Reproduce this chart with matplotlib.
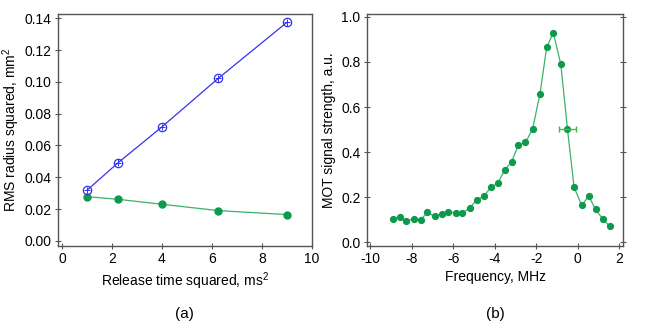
import matplotlib.pyplot as plt

plt.rcParams['font.family'] = ['Liberation Sans', 'DejaVu Sans']
plt.rcParams['mathtext.fontset'] = 'custom'
plt.rcParams['mathtext.rm'] = 'Liberation Sans'
plt.rcParams['font.size'] = 10
plt.rcParams['axes.unicode_minus'] = False

# (a) RMS radius squared vs release time squared
t2 = [1.0, 2.25, 4.0, 6.25, 9.0]
r2_blue = [0.0318, 0.0492, 0.0717, 0.1022, 0.1375]
r2_green = [0.0278, 0.0261, 0.0230, 0.0190, 0.0165]

# (b) MOT signal vs frequency
freq = [-8.91, -8.57, -8.26, -7.89, -7.57, -7.25, -6.89, -6.55, -6.23, -5.87,
        -5.55, -5.21, -4.86, -4.53, -4.19, -3.86, -3.52, -3.19, -2.86, -2.52,
        -2.18, -1.82, -1.50, -1.18, -0.82, -0.50, -0.18, 0.19, 0.52, 0.86,
        1.20, 1.53]
signal = [0.104, 0.112, 0.093, 0.104, 0.098, 0.132, 0.114, 0.126, 0.135, 0.129,
          0.129, 0.151, 0.188, 0.203, 0.243, 0.261, 0.319, 0.357, 0.431, 0.443,
          0.501, 0.659, 0.865, 0.930, 0.791, 0.504, 0.243, 0.163, 0.204, 0.145,
          0.102, 0.071]
err_x, err_y, err_w = -0.50, 0.504, 0.40

blue = '#3333ee'
green = '#0d9a4a'
gline = '#3bb26a'
spine_c = '#555555'

fig = plt.figure(figsize=(6.54, 3.24), dpi=100)
ax1 = fig.add_axes([0.0887, 0.2417, 0.388, 0.715])
ax2 = fig.add_axes([0.5607, 0.2417, 0.3924, 0.715])

# panel a
ax1.plot(t2, r2_blue, color=blue, lw=0.9)
ax1.errorbar(t2, r2_blue, xerr=0.13, yerr=0.0021, fmt='o', ms=6,
             mfc='none', mec=blue, mew=0.9, ecolor=blue, elinewidth=0.7,
             capsize=0)
ax1.plot(t2, r2_green, color=gline, lw=0.9)
ax1.plot(t2, r2_green, 'o', color=green, ms=5)
ax1.set_xlim(-0.16, 10.0)
ax1.set_ylim(-0.0031, 0.1428)
ax1.set_xticks([0, 2, 4, 6, 8, 10])
ax1.set_yticks([0.00, 0.02, 0.04, 0.06, 0.08, 0.10, 0.12, 0.14])
ax1.set_yticklabels(['0.00', '0.02', '0.04', '0.06', '0.08', '0.10', '0.12', '0.14'])
ax1.set_xlabel('Release time squared, ms$^2$')
ax1.set_ylabel('RMS radius squared, mm$^2$')
ax1.yaxis.set_label_coords(-0.142, 0.5)
ax1.xaxis.set_label_coords(0.5, -0.105)
ax1.text(0.5, -0.295, '(a)', transform=ax1.transAxes, ha='center', va='center',
         fontsize=11)

# panel b
ax2.plot(freq, signal, color=gline, lw=0.9)
ax2.plot(freq, signal, 'o', color=green, ms=4.2)
ax2.errorbar([err_x], [err_y], xerr=[err_w], fmt='none', ecolor='#44bb44',
             elinewidth=1.0, capsize=2.5, capthick=1.0)
ax2.set_xlim(-10.16, 2.19)
ax2.set_ylim(-0.016, 1.013)
ax2.set_xticks([-10, -8, -6, -4, -2, 0, 2])
ax2.set_yticks([0.0, 0.2, 0.4, 0.6, 0.8, 1.0])
ax2.set_yticklabels(['0.0', '0.2', '0.4', '0.6', '0.8', '1.0'])
ax2.set_xlabel('Frequency, MHz')
ax2.set_ylabel('MOT signal strength, a.u.')
ax2.yaxis.set_label_coords(-0.118, 0.5)
ax2.xaxis.set_label_coords(0.5, -0.105)
ax2.text(0.5, -0.295, '(b)', transform=ax2.transAxes, ha='center', va='center',
         fontsize=11)

for ax in (ax1, ax2):
    for s in ax.spines.values():
        s.set_color(spine_c)
        s.set_linewidth(1.0)
    ax.tick_params(direction='inout', length=5, width=0.8, color=spine_c,
                   labelsize=10, pad=2)
ax2.tick_params(axis='y', which='both', right=True)

fig.savefig('out.png', dpi=100)
